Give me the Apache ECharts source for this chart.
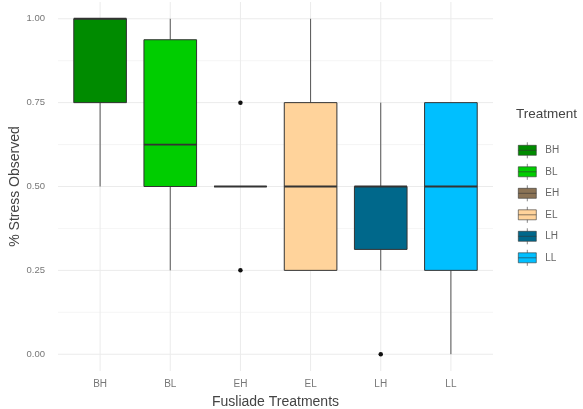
<!DOCTYPE html>
<html>
<head>
<meta charset="utf-8">
<title>Stress by Fusilade treatment</title>
<script src="https://cdn.jsdelivr.net/npm/echarts@6/dist/echarts.min.js"></script>
<style>
  html, body { margin: 0; padding: 0; background: #ffffff; }
  #chart { width: 583px; height: 409px; }
</style>
</head>
<body>
<div id="chart"></div>
<script>
// Treatments and their box statistics (share of stress observed)
const categories = ['BH', 'BL', 'EH', 'EL', 'LH', 'LL'];
const lowerWhisker = [0.50, 0.25, 0.50, 0.25, 0.25, 0.00];
const lowerHinge   = [0.75, 0.50, 0.50, 0.25, 0.3125, 0.25];
const medians      = [1.00, 0.625, 0.50, 0.50, 0.50, 0.50];
const upperHinge   = [1.00, 0.9375, 0.50, 0.75, 0.50, 0.75];
const upperWhisker = [1.00, 1.00, 0.50, 1.00, 0.75, 0.75];

// Points beyond the whiskers
const outlierTreatment = ['EH', 'EH', 'LH'];
const outlierValue     = [0.75, 0.25, 0.00];

// Y axis ticks
const yTicks      = [0, 0.25, 0.5, 0.75, 1];
const yMinorTicks = [0.125, 0.375, 0.625, 0.875];

// Fill colours per treatment (green4, green3, burlywood4, burlywood1, deepskyblue4, deepskyblue)
const fills = ['#008B00', '#00CD00', '#8B7355', '#FFD39B', '#00688B', '#00BFFF'];

const FONT = '"Liberation Sans", Arial, sans-serif';
const OUTLINE = '#333333';
const WHISKER = '#555555';
const GRID_COLOR = '#ebebeb';

// x positions are 1..n on a value axis, as in a discrete ggplot scale
const xPos = categories.map((c, i) => i + 1);

const boxData = categories.map((c, i) => [
  xPos[i], lowerWhisker[i], lowerHinge[i], medians[i], upperHinge[i], upperWhisker[i]
]);
const outlierData = outlierTreatment.map((c, i) => [categories.indexOf(c) + 1, outlierValue[i]]);

const gridLineData = []
  .concat(yTicks.map(v => ['h', v, 1]))
  .concat(yMinorTicks.map(v => ['h', v, 0.5]))
  .concat(xPos.map(v => ['v', v, 1]));

function renderGridLine(params, api) {
  const cs = params.coordSys;
  const dir = api.value(0);
  const v = api.value(1);
  const w = api.value(2);
  let shape;
  if (dir === 'h') {
    const y = api.coord([1, v])[1];
    shape = { x1: cs.x, y1: y, x2: cs.x + cs.width, y2: y };
  } else {
    const x = api.coord([v, 0])[0];
    shape = { x1: x, y1: cs.y, x2: x, y2: cs.y + cs.height };
  }
  return {
    type: 'line',
    shape: shape,
    style: { stroke: GRID_COLOR, lineWidth: w }
  };
}

function renderBox(params, api) {
  const x = api.value(0);
  const lo = api.coord([x, api.value(1)]);
  const q1 = api.coord([x, api.value(2)]);
  const md = api.coord([x, api.value(3)]);
  const q3 = api.coord([x, api.value(4)]);
  const hi = api.coord([x, api.value(5)]);
  const half = api.size([0.75, 0])[0] / 2;
  const cx = lo[0];
  const fill = fills[params.dataIndex];
  return {
    type: 'group',
    children: [
      { type: 'line', shape: { x1: cx, y1: q3[1], x2: cx, y2: hi[1] },
        style: { stroke: WHISKER, lineWidth: 1 } },
      { type: 'line', shape: { x1: cx, y1: q1[1], x2: cx, y2: lo[1] },
        style: { stroke: WHISKER, lineWidth: 1 } },
      { type: 'rect', shape: { x: cx - half, y: q3[1], width: half * 2, height: q1[1] - q3[1] },
        style: { fill: fill, stroke: OUTLINE, lineWidth: 1 } },
      { type: 'line', shape: { x1: cx - half, y1: md[1], x2: cx + half, y2: md[1] },
        style: { stroke: OUTLINE, lineWidth: 1.8 } }
    ]
  };
}

// Boxplot-style legend key: box, whisker stubs and median bar
const keyIcon = 'path://M0,3H18V13H0Z M9,0V3 M9,13V16 M0,8H18';

const legendSeries = categories.map((c, i) => ({
  name: c,
  type: 'scatter',
  data: [],
  itemStyle: { color: fills[i], opacity: 1 }
}));

const chart = echarts.init(document.getElementById('chart'), null, { renderer: 'canvas' });

chart.setOption({
  animation: false,
  backgroundColor: '#ffffff',
  textStyle: { fontFamily: FONT },
  title: {
    text: 'Treatment',
    left: 511,
    top: 102,
    textStyle: { fontFamily: FONT, fontSize: 13.5, fontWeight: 'normal', color: '#444444' }
  },
  legend: {
    orient: 'vertical',
    left: 513,
    top: 137,
    itemWidth: 18,
    itemHeight: 16,
    itemGap: 4.9,
    icon: keyIcon,
    itemStyle: { borderColor: OUTLINE, borderWidth: 0.6, opacity: 1 },
    textStyle: { fontFamily: FONT, fontSize: 10, color: '#666666', padding: [0, 0, 0, 4] },
    data: categories
  },
  grid: {
    left: 58,
    right: 90,
    top: 2,
    bottom: 38,
    outerBoundsMode: 'none',
    containLabel: false
  },
  xAxis: {
    type: 'value',
    min: 0.4,
    max: 6.6,
    name: 'Fusliade Treatments',
    nameLocation: 'middle',
    nameGap: 24,
    nameMoveOverlap: false,
    nameTextStyle: { fontFamily: FONT, fontSize: 14, color: '#444444' },
    axisLine: { show: false },
    axisTick: { show: false },
    splitLine: { show: false },
    axisLabel: {
      customValues: xPos,
      formatter: v => categories[Math.round(v) - 1] || '',
      margin: 8,
      fontFamily: FONT,
      fontSize: 10,
      color: '#777777'
    }
  },
  yAxis: {
    type: 'value',
    min: -0.05,
    max: 1.05,
    name: '% Stress Observed',
    nameLocation: 'middle',
    nameGap: 36,
    nameMoveOverlap: false,
    nameRotate: 90,
    nameTextStyle: { fontFamily: FONT, fontSize: 14, color: '#444444' },
    axisLine: { show: false },
    axisTick: { show: false },
    splitLine: { show: false },
    axisLabel: {
      customValues: yTicks,
      formatter: v => v.toFixed(2),
      margin: 13,
      fontFamily: FONT,
      fontSize: 9.5,
      color: '#777777'
    }
  },
  series: [
    {
      name: 'grid',
      type: 'custom',
      silent: true,
      z: 0,
      renderItem: renderGridLine,
      data: gridLineData,
      encode: { x: 1, y: 1 },
      clip: true
    },
    {
      name: 'boxes',
      type: 'custom',
      z: 2,
      renderItem: renderBox,
      data: boxData,
      encode: { x: 0, y: [1, 2, 3, 4, 5] }
    },
    {
      name: 'outliers',
      type: 'scatter',
      z: 3,
      data: outlierData,
      symbol: 'circle',
      symbolSize: 4.5,
      itemStyle: { color: '#111111', opacity: 1 }
    }
  ].concat(legendSeries)
});
</script>
</body>
</html>
